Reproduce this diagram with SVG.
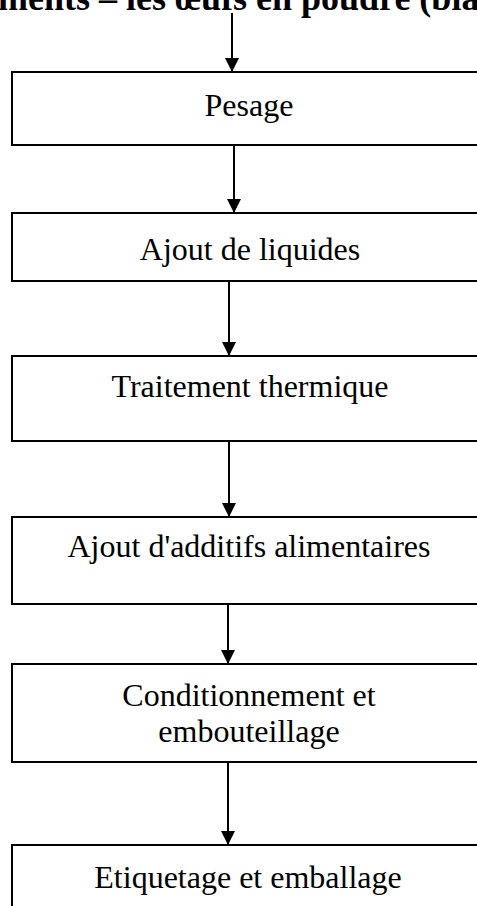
<svg xmlns="http://www.w3.org/2000/svg" width="477" height="906" viewBox="0 0 477 906">
<style>
.box{fill:#fff;stroke:#000;stroke-width:2}
.lbl{font-family:"Liberation Serif","Times New Roman",serif;font-size:32px;fill:#000;text-anchor:middle}
.title{font-family:"Liberation Serif","Times New Roman",serif;font-size:36px;font-weight:bold;fill:#000}
.con{stroke:#000;stroke-width:2;fill:none}
</style>
<defs>
<marker id="ah" markerUnits="userSpaceOnUse" markerWidth="14" markerHeight="15" refX="14" refY="7" orient="auto" viewBox="0 0 14 14">
<path d="M0,0 L14,7 L0,14 Z" fill="#000"/>
</marker>
</defs>
<rect width="477" height="906" fill="#fff"/>
<text class="title" x="-2" y="10">ments – les œufs en poudre (bla</text>
<g id="connectors">
<line class="con" x1="232" y1="13" x2="232" y2="72" marker-end="url(#ah)"/>
<line class="con" x1="234" y1="145" x2="234" y2="213" marker-end="url(#ah)"/>
<line class="con" x1="229" y1="281" x2="229" y2="356" marker-end="url(#ah)"/>
<line class="con" x1="229" y1="441" x2="229" y2="517" marker-end="url(#ah)"/>
<line class="con" x1="228" y1="604" x2="228" y2="664" marker-end="url(#ah)"/>
<line class="con" x1="228" y1="762" x2="228" y2="845" marker-end="url(#ah)"/>
</g>
<g id="n1"><rect class="box" x="12" y="72" width="480" height="73"/><text class="lbl" x="249" y="116">Pesage</text></g>
<g id="n2"><rect class="box" x="12" y="213" width="480" height="68"/><text class="lbl" x="250" y="260">Ajout de liquides</text></g>
<g id="n3"><rect class="box" x="12" y="356" width="480" height="85"/><text class="lbl" x="250" y="397">Traitement thermique</text></g>
<g id="n4"><rect class="box" x="12" y="517" width="480" height="87"/><text class="lbl" x="249" y="557">Ajout d'additifs alimentaires</text></g>
<g id="n5"><rect class="box" x="12" y="664" width="480" height="98"/><text class="lbl" x="249" y="706">Conditionnement et</text><text class="lbl" x="249" y="742">embouteillage</text></g>
<g id="n6"><rect class="box" x="12" y="845" width="480" height="80"/><text class="lbl" x="248" y="888">Etiquetage et emballage</text></g>
</svg>
